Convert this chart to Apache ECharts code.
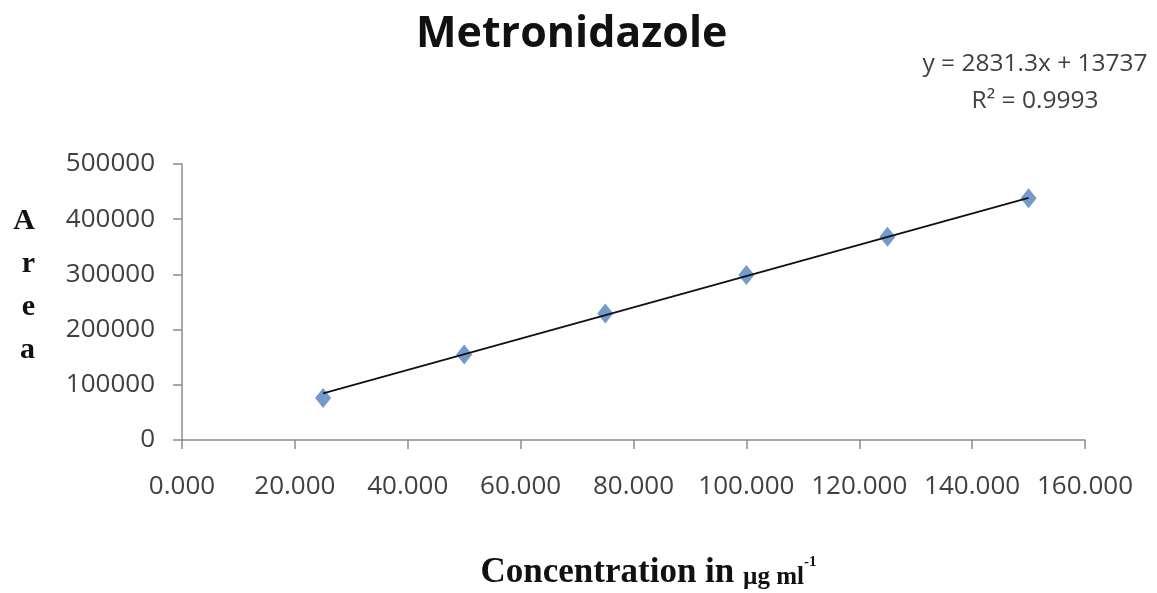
<!DOCTYPE html>
<html>
<head>
<meta charset="utf-8">
<script src="https://cdn.jsdelivr.net/npm/echarts@6/dist/echarts.min.js"></script>
<style>
  html, body { margin: 0; padding: 0; background: #fff; }
  #chart { width: 1157px; height: 593px; }
</style>
</head>
<body>
<div id="chart"></div>
<script>
// 浓度 (µg/ml) 与峰面积
var concentration = [25, 50, 75, 100, 125, 150];
var area = [76000, 155000, 229000, 299000, 368000, 438000];
// 趋势线两端 (读自图片)
var trendX = [25, 150];
var trendY = [84520, 438432];
var xTicks = [0, 20, 40, 60, 80, 100, 120, 140, 160];
var yTicks = [0, 100000, 200000, 300000, 400000, 500000];
var equationText = ['y = 2831.3x + 13737', 'R² = 0.9993'];

var chart = echarts.init(document.getElementById('chart'));

var pts = concentration.map(function (c, i) { return [c, area[i]]; });
var trend = trendX.map(function (c, i) { return [c, trendY[i]]; });

var axisGray = '#8c8c8c';
var labelColor = '#404040';

var option = {
  animation: false,
  title: {
    text: 'Metronidazole',
    left: 411,
    top: 8,
    textStyle: {
      fontFamily: 'Open Sans',
      fontWeight: 'bold',
      fontSize: 43,
      color: '#111'
    }
  },
  graphic: [{
    type: 'text',
    x: 1035,
    y: 46,
    style: {
      text: equationText.join('\n'),
      fontFamily: 'Open Sans',
      fontSize: 24.5,
      lineHeight: 37,
      fill: labelColor,
      align: 'center',
      verticalAlign: 'top'
    }
  }],
  grid: {
    left: 182,
    right: 72,
    top: 164,
    bottom: 153,
    containLabel: false
  },
  xAxis: {
    type: 'value',
    min: xTicks[0],
    max: xTicks[xTicks.length - 1],
    interval: 20,
    splitLine: { show: false },
    axisLine: { lineStyle: { color: axisGray, width: 1.5 } },
    axisTick: { show: true, length: 9, lineStyle: { color: axisGray, width: 1.5 } },
    axisLabel: {
      margin: 34,
      fontFamily: 'Open Sans',
      fontSize: 26,
      color: labelColor,
      formatter: function (v) { return v.toFixed(3); }
    },
    name: '{big|Concentration in }{small|µg ml}{sup|-1}',
    nameLocation: 'middle',
    nameGap: 115,
    nameTextStyle: {
      padding: [0, 0, 0, 30],
      rich: {
        big: { fontFamily: 'Liberation Serif', fontWeight: 'bold', fontSize: 35, color: '#111', verticalAlign: 'bottom' },
        small: { fontFamily: 'Liberation Serif', fontWeight: 'bold', fontSize: 25, color: '#111', verticalAlign: 'bottom' },
        sup: { fontFamily: 'Liberation Serif', fontWeight: 'bold', fontSize: 15, color: '#111', verticalAlign: 'top' }
      }
    }
  },
  yAxis: {
    type: 'value',
    min: yTicks[0],
    max: yTicks[yTicks.length - 1],
    interval: 100000,
    splitLine: { show: false },
    axisLine: { show: true, lineStyle: { color: axisGray, width: 1.5 } },
    axisTick: { show: true, length: 9, lineStyle: { color: axisGray, width: 1.5 } },
    axisLabel: {
      margin: 27,
      fontFamily: 'Open Sans',
      fontSize: 26,
      color: labelColor,
      formatter: function (v) { return String(v); }
    },
    // 末尾空行把字母整体上移
    name: '{l|A}\n{l|r}\n{l|e}\n{l|a}\n{g| }',
    nameLocation: 'middle',
    nameRotate: 0,
    nameGap: 147,
    nameTextStyle: {
      rich: {
        l: { fontFamily: 'Liberation Serif', fontWeight: 'bold', fontSize: 30, lineHeight: 43, color: '#111' },
        g: { fontSize: 10, lineHeight: 32 }
      }
    }
  },
  series: [
    {
      name: 'Area',
      type: 'scatter',
      data: pts,
      symbol: 'diamond',
      symbolSize: [16, 20],
      itemStyle: { color: '#4f81bd' },
      z: 2
    },
    {
      name: 'Linear',
      type: 'line',
      data: trend,
      symbol: 'none',
      lineStyle: { color: '#111', width: 1.8 },
      z: 3
    }
  ]
};

chart.setOption(option);
</script>
</body>
</html>
